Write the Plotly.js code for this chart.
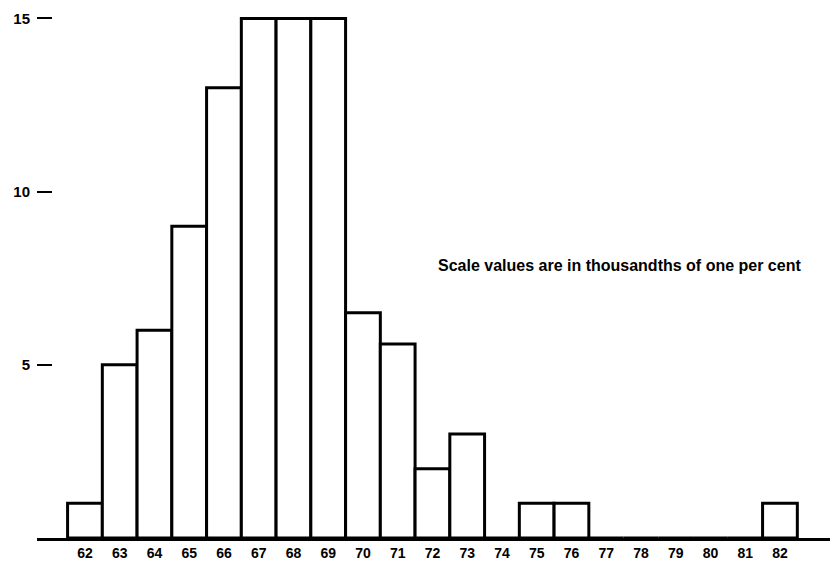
<!DOCTYPE html>
<html>
<head>
<meta charset="utf-8">
<script src="https://cdn.plot.ly/plotly-3.0.1.min.js"></script>
<style>html,body{margin:0;padding:0;background:#fff;}#chart{width:832px;height:563px;}</style>
</head>
<body>
<div id="chart"></div>
<script>
const categories = [62,63,64,65,66,67,68,69,70,71,72,73,74,75,76,77,78,79,80,81,82];
const counts     = [1, 5, 6, 9, 13,15,15,15,6.5,5.6,2, 3, 0, 1, 1, 0, 0, 0, 0, 0, 1];
const xTickLabels = categories.map(String);
const yTickValues = [5,10,15];
const yTickLabels = ['5','10','15'];
const note = 'Scale values are in thousandths of one per cent';

const font = {family: 'Liberation Sans, Arial, sans-serif', size: 15, color: '#000', weight: 700};
const xfont = {family: 'Liberation Sans, Arial, sans-serif', size: 14, color: '#000', weight: 700};

const trace = {
  type: 'bar',
  x: categories,
  y: counts,
  width: 1,
  marker: {color: '#fff', line: {color: '#000', width: 3}},
  hoverinfo: 'skip'
};

const layout = {
  width: 832, height: 563,
  margin: {l: 37, r: 2, t: 8, b: 25},
  paper_bgcolor: '#fff', plot_bgcolor: '#fff',
  showlegend: false,
  bargap: 0,
  xaxis: {
    range: [60.62, 83.44],
    tickvals: categories, ticktext: xTickLabels,
    ticks: '', showgrid: false, zeroline: false,
    showline: true, linecolor: '#000', linewidth: 3,
    ticklabelstandoff: 0,
    tickfont: xfont
  },
  yaxis: {
    range: [0, 15.3],
    tickvals: yTickValues, ticktext: yTickLabels,
    ticks: 'inside', ticklen: 15, tickwidth: 2, tickcolor: '#000',
    showgrid: false, zeroline: false, showline: false,
    ticklabelstandoff: 6,
    tickfont: font
  },
  annotations: [{
    text: note, xref: 'paper', yref: 'paper',
    x: 0.5035, y: 0.515, xanchor: 'left', yanchor: 'middle',
    showarrow: false,
    font: {family: 'Liberation Sans, Arial, sans-serif', size: 16, color: '#000', weight: 700}
  }]
};

Plotly.newPlot('chart', [trace], layout, {staticPlot: true, displayModeBar: false});
</script>
</body>
</html>
